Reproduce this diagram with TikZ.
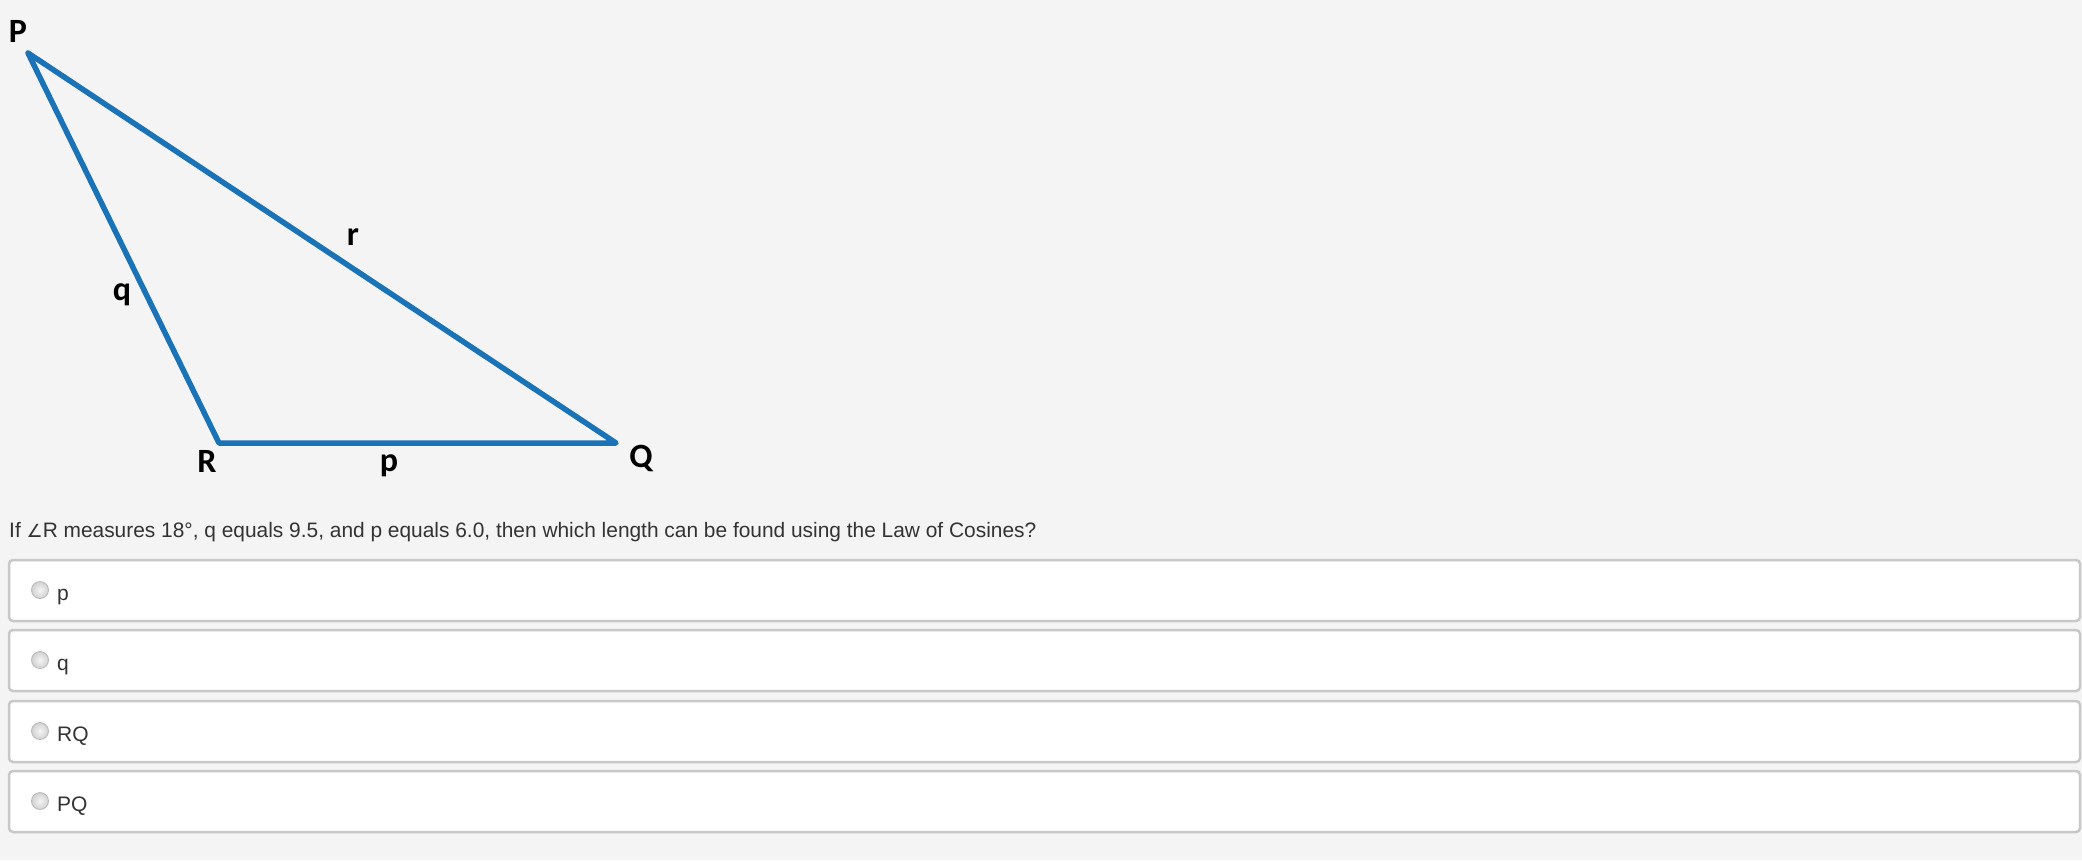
\documentclass[tikz,border=0pt]{standalone}
\usepackage{fontspec}
\setmainfont{Liberation Sans}
\newfontfamily\lblfont{Carlito}
\newfontfamily\symfont{DejaVu Sans}
\definecolor{bg}{HTML}{F4F4F4}
\definecolor{tri}{HTML}{1A73B6}
\definecolor{txt}{HTML}{333333}
\definecolor{bord}{HTML}{C8C8C8}
\tikzset{
  vlabel/.style={anchor=base, inner sep=0pt, font=\lblfont\bfseries\fontsize{34}{38}\selectfont, text=black},
  question/.style={anchor=base west, inner sep=0pt, font=\fontsize{20.9}{25}\selectfont, text=txt},
  optbox/.style={draw=bord, line width=2.5pt, fill=white, rounded corners=4pt},
  radio/.style={inner color=black!4, outer color=black!18},
  radioring/.style={draw=black!28, line width=0.8pt},
  opttext/.style={anchor=base west, inner sep=0pt, font=\fontsize{21}{25}\selectfont, text=txt},
}
\begin{document}
\begin{tikzpicture}[x=1pt,y=-1pt]
\fill[bg] (0,0) rectangle (2082,860);
\useasboundingbox (0,0) rectangle (2082,860);
% triangle
\coordinate (P) at (28,53);
\coordinate (R) at (219,443);
\coordinate (Q) at (616,443);
\draw[tri, line width=5.5pt, line join=round, line cap=round] (P) -- (Q) -- (R) -- cycle;
\node[vlabel] (lP) at (18,42) {P};
\node[vlabel] (lr) at (353,245) {r};
\node[vlabel] (lq) at (122,300) {q};
\node[vlabel] (lR) at (207,472) {R};
\node[vlabel] (lp) at (389,471) {p};
\node[vlabel] (lQ) at (641,467) {Q};
% question
\node[question] (qtext) at (9,537) {If {\symfont\fontsize{18}{20}\selectfont ∠}R measures 18°, q equals 9.5, and p equals 6.0, then which length can be found using the Law of Cosines?};
% options
\foreach \t/\lab [count=\i from 0] in {560/p,630/q,701/RQ,771/PQ}{
  \draw[optbox] (9,\t) rectangle (2080,\t+61);
  \shade[radio] (40,\t+30) circle (8.5);
  \draw[radioring] (40,\t+30) circle (8.5);
  \node[opttext] (opt\i) at (57,\t+40) {\lab};
}
\end{tikzpicture}
\end{document}
